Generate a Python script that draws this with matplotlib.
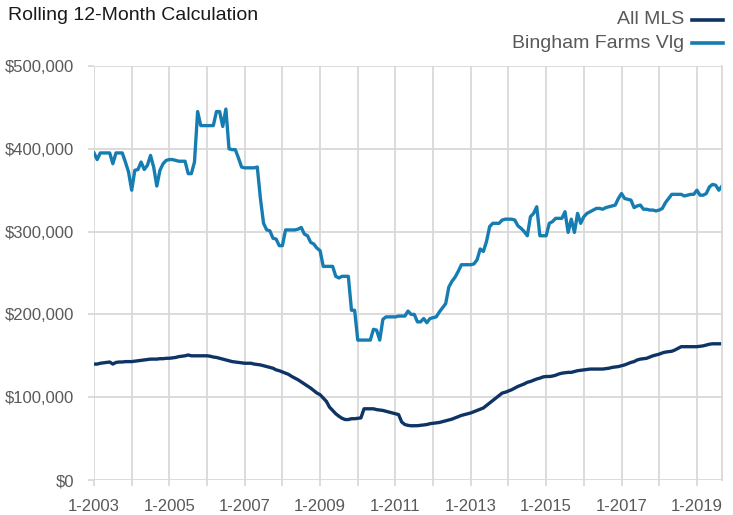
import matplotlib
matplotlib.use('Agg')
import matplotlib.pyplot as plt
from matplotlib.lines import Line2D
import numpy as np

plt.rcParams['font.family'] = ['Liberation Sans Narrow', 'Liberation Sans', 'DejaVu Sans']

# monthly values, 1-2003 .. 9-2019 (in $ thousands)
start_year = 2003
bingham = [
    395, 387, 395, 395, 395, 395, 382, 395, 395, 395, 384, 372,   # 2003
    350, 374, 375, 384, 375, 380, 392, 378, 355, 374, 382, 386,   # 2004
    387, 387, 386, 385, 385, 385, 370, 370, 384, 445, 428, 428,   # 2005
    428, 428, 428, 445, 445, 427, 448, 400, 399, 399, 389, 378,   # 2006
    377, 377, 377, 377, 378, 340, 310, 302, 301, 292, 291, 283,   # 2007
    283, 302, 302, 302, 302, 303, 305, 297, 295, 287, 285, 280,   # 2008
    277, 258, 258, 258, 258, 246, 244, 246, 246, 246, 205, 205,   # 2009
    169, 169, 169, 169, 169, 182, 181, 169, 194, 197, 197, 197,   # 2010
    197, 198, 198, 198, 204, 200, 200, 191, 191, 195, 190, 195,   # 2011
    196, 197, 203, 208, 213, 233, 240, 245, 252, 260, 260, 260,   # 2012
    260, 261, 266, 279, 276, 288, 306, 310, 310, 310, 314, 315,   # 2013
    315, 315, 314, 307, 304, 300, 295, 318, 322, 330, 295, 295,   # 2014
    295, 310, 312, 316, 316, 316, 324, 299, 315, 299, 322, 310,   # 2015
    318, 322, 324, 326, 328, 328, 327, 329, 330, 331, 332, 340,   # 2016
    346, 340, 339, 338, 329, 331, 332, 327, 327, 326, 326, 325,   # 2017
    326, 328, 335, 340, 345, 345, 345, 345, 343, 344, 345, 345,   # 2018
    350, 344, 344, 346, 354, 357, 356, 350, 355,                  # 2019
]
all_mls = [
    140, 140, 141, 141.5, 142, 142.5, 140, 142, 142.5, 142.5, 143, 143,
    143, 143.5, 144, 144.5, 145, 145.5, 146, 146, 146, 146.5, 146.5, 147,
    147, 147.5, 148, 149, 149.5, 150, 151, 150, 150, 150, 150, 150,
    150, 149.5, 148.5, 148, 147, 146, 145, 144, 143, 142.5, 142, 141.5,
    141, 141, 141, 140, 139.5, 139, 138, 137, 136, 135, 133, 132,
    130.5, 129, 127.5, 125, 123, 121, 118.5, 116, 113.5, 111, 108, 105,
    103, 99, 95, 88, 84, 80, 77, 74.5, 73, 73, 74, 74,
    74.5, 75, 86, 86, 86, 86, 85, 84.5, 84, 83, 82, 81,
    80, 79, 70, 67, 66, 65.5, 65.5, 65.6, 66, 66.5, 67, 68,
    68.5, 69, 69.5, 70.5, 71.5, 72.5, 73.5, 75, 76.5, 78, 79, 80,
    81, 82.5, 84, 85.5, 87, 90, 93, 96, 99, 102, 105, 106,
    107.5, 109, 111, 113, 114.5, 116, 118, 119, 120.5, 122, 123, 124.5,
    125, 125, 125.5, 126.5, 128, 129, 129.5, 130, 130, 131, 132, 132.5,
    133, 133.5, 134, 134, 134, 134, 134, 134.5, 135, 136, 136.5, 137,
    138, 139, 140.5, 142, 143, 145, 146, 146.5, 147, 148.5, 150, 151,
    152, 153.5, 154.5, 155, 155.5, 157, 159, 161, 161, 161, 161, 161,
    161, 161.5, 162, 163, 164, 164.5, 164.5, 164.5, 164.5,
]
series_names = ['All MLS', 'Bingham Farms Vlg']
colors = ['#0e3465', '#167db2']
grid_col = '#d9d9d9'
text_col = '#595959'

months = np.arange(len(bingham))

fig = plt.figure(figsize=(7.33, 5.15), dpi=100)
ax = fig.add_axes([94 / 733, 35 / 515, 628 / 733, 414 / 515])

ax.plot(months, np.array(all_mls) * 1000, color=colors[0], lw=2.4, solid_joinstyle='round')
ax.plot(months, np.array(bingham) * 1000, color=colors[1], lw=2.4, solid_joinstyle='round')

ax.set_xlim(0, len(bingham) - 1)
ax.set_ylim(0, 500000)

year_ticks = np.arange(0, len(bingham), 12)
ax.set_xticks(year_ticks)
ax.set_xticklabels(['1-%d' % (start_year + i) if i % 2 == 0 else '' for i in range(len(year_ticks))])
yt = np.arange(0, 500001, 100000)
ax.set_yticks(yt)
ax.set_yticklabels(['${:,.0f}'.format(v) for v in yt])

ax.set_axisbelow(True)
ax.grid(True, color=grid_col, lw=1.3)
for s in ['left', 'top', 'bottom']:
    ax.spines[s].set_visible(False)
ax.spines['right'].set_color(grid_col)
ax.spines['right'].set_linewidth(1.3)
ax.tick_params(axis='x', length=4.5, width=1.3, color=grid_col, pad=9, labelsize=12, labelcolor=text_col)
ax.tick_params(axis='y', length=4.5, width=1.3, color=grid_col, pad=10, labelsize=12, labelcolor=text_col)

fig.text(8 / 733, 1 - 20 / 515, 'Rolling 12-Month Calculation', fontsize=14, color='#1a1a1a', va='baseline')

for i, name in enumerate(series_names):
    yy = 1 - (20 + 23 * i) / 515
    fig.text(684 / 733, yy, name, fontsize=14, color=text_col, ha='right', va='center')
    fig.add_artist(Line2D([692 / 733, 723 / 733], [yy, yy], color=colors[i], lw=2.6))

fig.savefig('out.png', dpi=100)
